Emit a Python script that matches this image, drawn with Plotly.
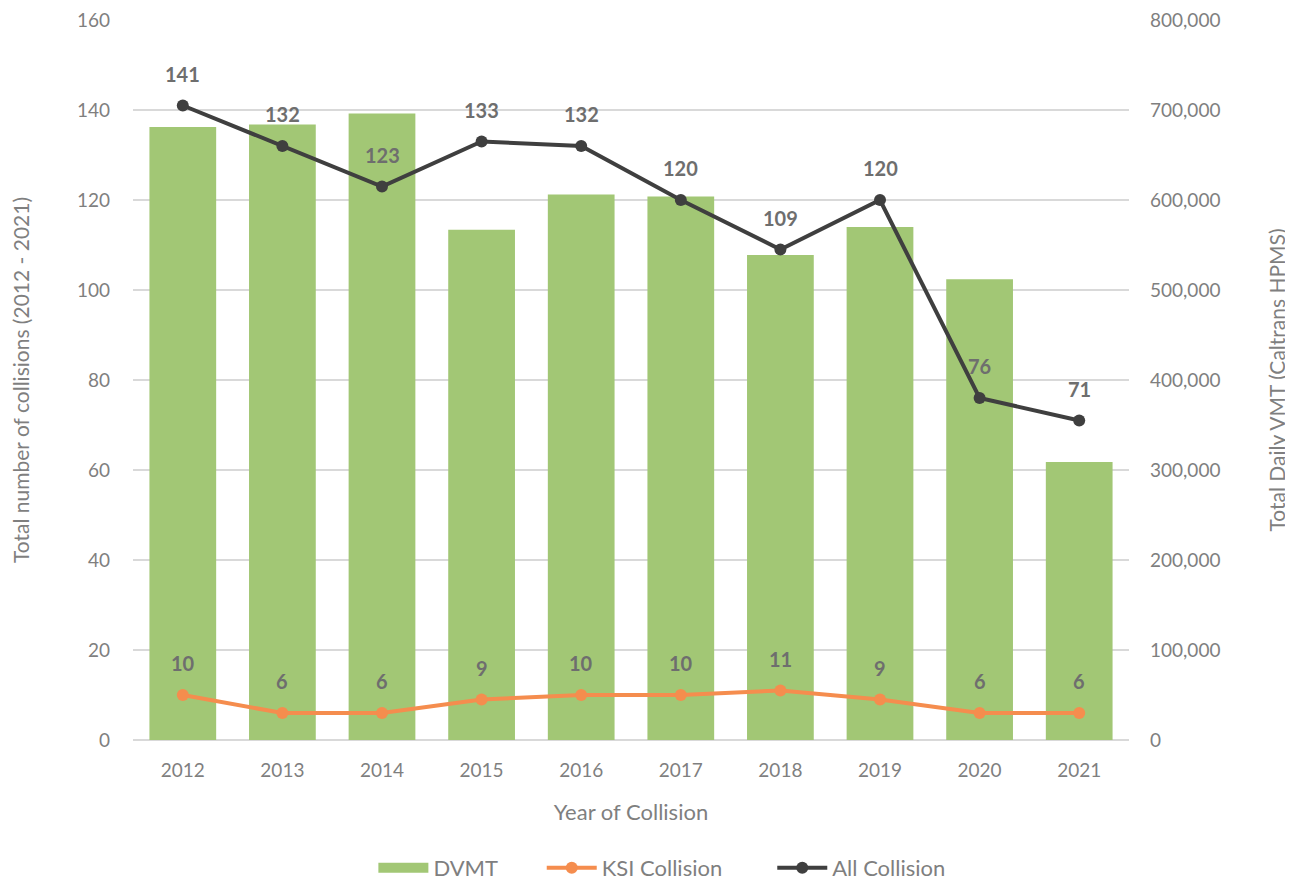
import plotly.graph_objects as go

years = ["2012", "2013", "2014", "2015", "2016", "2017", "2018", "2019", "2020", "2021"]
dvmt = [681000, 684000, 696000, 567000, 606000, 604000, 539000, 570000, 512000, 309000]
ksi = [10, 6, 6, 9, 10, 10, 11, 9, 6, 6]
all_coll = [141, 132, 123, 133, 132, 120, 109, 120, 76, 71]

GREEN = "#A2C775"
ORANGE = "#F58D4E"
DARK = "#3F3F3F"
TXT = "#7F7F7F"
LBL = "#6E6E6E"
FONT = "Lato"
NB = "\u00a0"

fig = go.Figure()
# bars on the bottom layer axis (right side), lines on the overlaying axis (left side)
fig.add_trace(go.Bar(x=years, y=dvmt, name="DVMT", marker=dict(color=GREEN, line=dict(width=0)),
                     yaxis="y", hoverinfo="skip", showlegend=False))
fig.add_trace(go.Scatter(x=[None], y=[None], name="DVMT" + NB * 7, mode="lines", yaxis="y",
                         line=dict(color=GREEN, width=14), showlegend=True))
fig.add_trace(go.Scatter(x=years, y=ksi, name="KSI Collision" + NB * 8, mode="lines+markers", yaxis="y2",
                         line=dict(color=ORANGE, width=4), marker=dict(size=12, color=ORANGE)))
fig.add_trace(go.Scatter(x=years, y=all_coll, name="All Collision", mode="lines+markers", yaxis="y2",
                         line=dict(color=DARK, width=4), marker=dict(size=12, color=DARK)))

annotations = []
for series in (ksi, all_coll):
    for i, yv in enumerate(series):
        annotations.append(dict(x=i, y=yv, xref="x", yref="y2", text=f"<b>{yv}</b>",
                                showarrow=False, yshift=32,
                                font=dict(family=FONT, size=20, color=LBL)))

fig.update_layout(
    width=1293, height=880,
    margin=dict(l=125, r=172, t=12, b=148, autoexpand=False),
    plot_bgcolor="white", paper_bgcolor="white",
    font=dict(family=FONT, size=19, color=TXT),
    bargap=0.33,
    showlegend=True,
    legend=dict(orientation="h", x=0.531, xanchor="center", yref="container", y=0.0227, yanchor="middle",
                font=dict(size=22, color=TXT), traceorder="normal", itemwidth=50),
    xaxis=dict(type="category", automargin=False, categoryorder="array", categoryarray=years,
               range=[-0.5, len(years) - 0.5], ticklabelstandoff=17,
               title=dict(text="Year of Collision", font=dict(size=22, color=TXT), standoff=24),
               tickfont=dict(size=19, color=TXT), showgrid=False, showline=False, ticks=""),
    yaxis=dict(automargin=False, side="right", ticklabeloverflow="allow",
               title=dict(text="Total Daily VMT (Caltrans HPMS)", font=dict(size=21, color=TXT), standoff=50),
               range=[0, 800000], dtick=100000, tickformat=",", ticklabelstandoff=20,
               showgrid=False, zeroline=False, tickfont=dict(size=19, color=TXT)),
    yaxis2=dict(automargin=False, side="left", overlaying="y", ticklabeloverflow="allow",
                title=dict(text="Total number of collisions (2012 - 2021)", font=dict(size=21, color=TXT), standoff=52),
                range=[0, 160], dtick=20, gridcolor="#D9D9D9", gridwidth=1.5, zeroline=True,
                zerolinecolor="#D9D9D9", zerolinewidth=1.5, ticklabelstandoff=22,
                tickfont=dict(size=19, color=TXT)),
    annotations=annotations,
)
fig.write_html("out.html")
